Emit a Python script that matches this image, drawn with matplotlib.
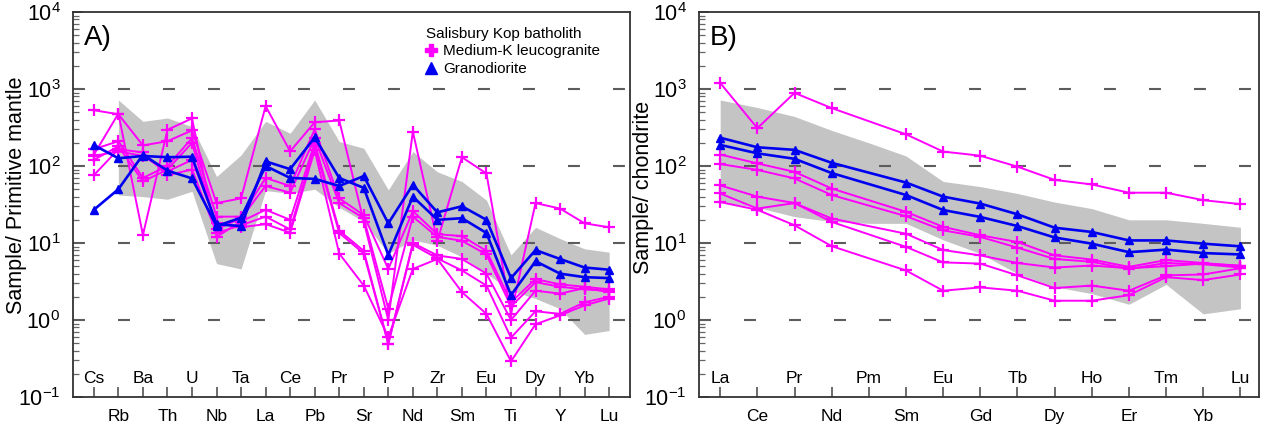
import numpy as np
import matplotlib.pyplot as plt
from matplotlib.lines import Line2D
from matplotlib.ticker import LogLocator, FixedLocator, NullFormatter

plt.rcParams['font.family'] = ['Liberation Sans', 'DejaVu Sans']
plt.rcParams['mathtext.fontset'] = 'custom'
plt.rcParams['mathtext.rm'] = 'Liberation Sans'
plt.rcParams['lines.scale_dashes'] = False

nan = np.nan

# A) primitive mantle normalised spider diagram
pm_elements = ['Cs', 'Rb', 'Ba', 'Th', 'U', 'Nb', 'Ta', 'La', 'Ce', 'Pb', 'Pr',
               'Sr', 'P', 'Nd', 'Zr', 'Sm', 'Eu', 'Ti', 'Dy', 'Y', 'Yb', 'Lu']

pm_leuco_1 = [530, 470, 185, 210, 290, 33, 38, 600, 155, 370, 390,
              19, 1.0, 280, 10.6, 130, 80, 1.2, 33, 28, 18, 16]
pm_leuco_2 = [165, 210, 70, 100, 230, 22, 22, 70, 55, 300, 38,
              23, 4.6, 26, 13, 12.3, 7.9, 1.7, 3.4, 2.9, 2.7, 2.5]
pm_leuco_3 = [120, 180, 63, 90, 200, 15, 21, 55, 45, 230, 33,
              21, 1.4, 22, 12, 10.7, 7.1, 1.5, 3.1, 2.7, 2.5, 2.4]
pm_leuco_4 = [140, 480, 12.7, 295, 415, 12, 19, 27, 20, 200, 14.5,
              7.9, 0.49, 10, 6.9, 6.2, 4.0, 1.0, 2.4, 2.2, 2.6, 2.3]
pm_leuco_5 = [76, 165, 150, 76, 90, 13.5, 17, 22, 15, 180, 13.5,
              7.3, 0.49, 9.5, 6.3, 4.4, 2.8, 0.59, 1.3, 1.2, 1.7, 2.0]
pm_leuco_6 = [135, 155, 135, 85, 120, 18, 16, 17.6, 13.6, 160, 7.3,
              2.8, 0.6, 4.6, 6.2, 2.3, 1.2, 0.29, 0.88, 1.15, 1.55, 1.9]

pm_grano_1 = [187, 126, 135, 130, 132, 17.5, 16.6, 115, 91, 235, 70,
              52, 7, 40, 20, 21, 13.5, 2.1, 5.8, 4.0, 3.6, 3.5]
pm_grano_2 = [27, 50, 140, 87, 69, 16.6, 21.3, 100, 70, 68, 55,
              74, 18, 57, 25, 30, 20, 3.5, 8.1, 6.2, 4.8, 4.5]

pm_env_upper = [nan, 720, 380, 420, 325, 73, 139, 380, 266, 720, 208,
                170, 49, 154, 84, 63, 36, 7.0, 16, 11.4, 8.4, 7.6]
pm_env_lower = [nan, 42, 40, 37, 47, 5.4, 4.6, 48, 44, 50, 29,
                19, 7.3, 11, 9.3, 6.6, 4.0, 2.4, 1.9, 1.4, 0.65, 0.73]

# B) chondrite normalised REE diagram
ree_elements = ['La', 'Ce', 'Pr', 'Nd', 'Pm', 'Sm', 'Eu', 'Gd', 'Tb', 'Dy',
                'Ho', 'Er', 'Tm', 'Yb', 'Lu']

ree_leuco_1 = [1200, 310, 890, 565, nan, 258, 154, 136, 98, 66, 57.6, 45, 45, 36, 32]
ree_leuco_2 = [141, 108, 84, 51, nan, 25.4, 16.2, 12.6, 10.3, 6.9, 6.1, 4.9, 6.0, 5.5, 5.0]
ree_leuco_3 = [106, 89, 69, 42, nan, 22.3, 14.6, 12, 8.7, 6.2, 5.7, 4.6, 5.5, 5.3, 4.8]
ree_leuco_4 = [56, 40, 33, 20.8, nan, 13.2, 8.1, 6.9, 5.5, 4.8, 5.1, 4.7, 5.0, 5.4, 5.1]
ree_leuco_5 = [44, 28, 33, 18.8, nan, 8.9, 5.6, 5.4, 3.8, 2.6, 2.8, 2.4, 3.8, 3.9, 4.7]
ree_leuco_6 = [34, 27, 17, 9.1, nan, 4.4, 2.4, 2.65, 2.4, 1.78, 1.78, 2.1, 3.6, 3.3, 3.9]

ree_grano_1 = [233, 175, 162, 110, nan, 61, 40, 32.5, 23.6, 15.8, 13.9, 10.8, 10.8, 9.8, 9.05]
ree_grano_2 = [188, 146, 124, 81, nan, 42, 26.8, 21.8, 16.6, 11.8, 9.8, 7.6, 8.2, 7.4, 7.1]

ree_env_upper = [720, 575, 440, 290, 200, 135, 63, 54, 44, 34, 28, 20, 20, 18, 16]
ree_env_lower = [34, 29, 22, 19, 18, 18, 11, 7.3, 4.0, 2.7, 2.2, 1.6, 2.9, 1.2, 1.4]

leuco_color = '#ff00ff'
grano_color = '#0000f0'
W, H = 1262, 430


def draw_panel(ax, elements, leuco, grano, env_up, env_lo, ylabel, tag, pad_l, pad_r):
    x = np.arange(len(elements))
    ax.fill_between(x, env_lo, env_up, color='#c4c4c4', lw=0, zorder=1)
    for v in (1, 10, 100, 1000):
        ax.axhline(v, color='#5c5c5c', lw=1.5, dashes=(8.6, 23.8), zorder=2)
    for s in leuco:
        s = np.array(s, float)
        m = np.isfinite(s)
        ax.plot(x[m], s[m], color=leuco_color, lw=1.4, marker='+', ms=9,
                mew=1.6, zorder=3)
    for s in grano:
        s = np.array(s, float)
        m = np.isfinite(s)
        ax.plot(x[m], s[m], color=grano_color, lw=1.9, marker='^', ms=5.5,
                zorder=4)

    ax.set_yscale('log')
    ax.set_ylim(0.1, 1e4)
    ax.set_xlim(x[0] - pad_l, x[-1] + pad_r)
    ax.yaxis.set_major_locator(FixedLocator([0.1, 1, 10, 100, 1000, 10000]))
    ax.set_yticklabels([r'$\mathregular{10^{%d}}$' % e for e in range(-1, 5)])
    ax.yaxis.set_minor_locator(LogLocator(base=10, subs=np.arange(2, 10), numticks=20))
    ax.yaxis.set_minor_formatter(NullFormatter())
    ax.tick_params(axis='y', which='major', direction='in', length=7, width=1.1,
                   labelsize=15.5, pad=9, color='#444444')
    ax.tick_params(axis='y', which='minor', direction='in', length=4, width=0.9,
                   color='#666666')
    ax.set_xticks(x)
    ax.set_xticklabels([])
    ax.tick_params(axis='x', direction='in', length=7, width=1.1, color='#444444')

    for i, el in enumerate(elements):
        if i % 2 == 0:
            ax.text(i, 0.049, el, transform=ax.get_xaxis_transform(),
                    ha='center', va='center', fontsize=12.5)
        else:
            ax.text(i, -0.051, el, transform=ax.get_xaxis_transform(),
                    ha='center', va='center', fontsize=12.5)

    for sp in ax.spines.values():
        sp.set_linewidth(1.3)
        sp.set_color('#333333')

    ax.set_ylabel(ylabel, fontsize=15.5)
    ax.text(0.02, 0.965, tag, transform=ax.transAxes, ha='left', va='top',
            fontsize=20)


fig = plt.figure(figsize=(W / 100, H / 100), dpi=100)
axA = fig.add_axes([73 / W, 1 - 397 / H, (630 - 73) / W, (397 - 12) / H])
axB = fig.add_axes([699 / W, 1 - 397 / H, (1259 - 699) / W, (397 - 12) / H])

draw_panel(axA, pm_elements,
           [pm_leuco_1, pm_leuco_2, pm_leuco_3, pm_leuco_4, pm_leuco_5, pm_leuco_6],
           [pm_grano_1, pm_grano_2], pm_env_upper, pm_env_lower,
           'Sample/ Primitive mantle', 'A)', 0.85, 0.85)
draw_panel(axB, ree_elements,
           [ree_leuco_1, ree_leuco_2, ree_leuco_3, ree_leuco_4, ree_leuco_5, ree_leuco_6],
           [ree_grano_1, ree_grano_2], ree_env_upper, ree_env_lower,
           'Sample/ chondrite', 'B)', 0.57, 0.5)
axA.yaxis.set_label_coords(-0.082, 0.525)
axB.yaxis.set_label_coords(-0.08, 0.545)

handles = [Line2D([], [], ls='none', marker='P', color=leuco_color, ms=9),
           Line2D([], [], ls='none', marker='^', color=grano_color, ms=8)]
axA.legend(handles, ['Medium-K leucogranite', 'Granodiorite'],
           title='Salisbury Kop batholith', loc='upper right',
           bbox_to_anchor=(0.965, 0.99), frameon=False, fontsize=11,
           title_fontsize=11, alignment='left', handlelength=0.7,
           handletextpad=0.4, labelspacing=0.25, borderpad=0.2)

fig.savefig('out.png', dpi=100)
